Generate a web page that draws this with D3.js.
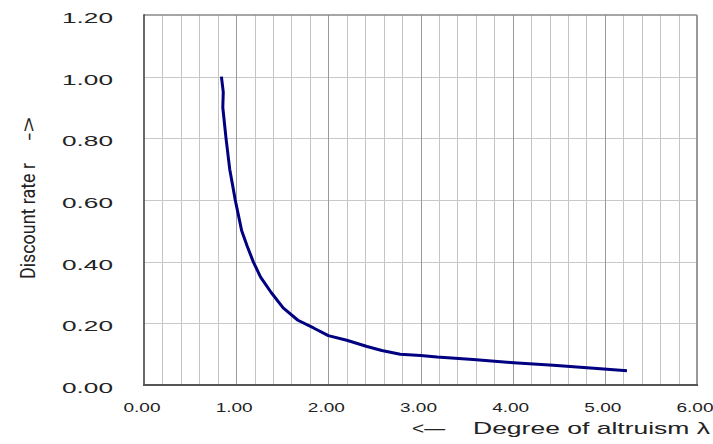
<!DOCTYPE html>
<html><head><meta charset="utf-8">
<script src="https://cdn.jsdelivr.net/npm/d3@7/dist/d3.min.js"></script>
<style>html,body{margin:0;padding:0;background:#fff;}svg{display:block;}</style>
</head><body>
<svg id="c" width="713" height="444"></svg>
<script>
// Data
const lambda = [0.84,0.86,0.855,0.89,0.93,0.96,0.99,1.06,1.12,1.185,1.265,1.38,1.51,1.67,1.84,2.00,2.20,2.42,2.58,2.78,3.00,3.18,3.57,4.01,4.44,4.88,5.24];
const rate   = [1.00,0.95,0.90,0.80,0.70,0.65,0.60,0.50,0.45,0.40,0.35,0.30,0.25,0.21,0.185,0.16,0.145,0.125,0.112,0.100,0.096,0.091,0.083,0.072,0.064,0.054,0.046];
const xTicks = [0,1,2,3,4,5,6];
const yTicks = [0,0.2,0.4,0.6,0.8,1.0,1.2];
const xTitle = "Degree of altruism λ";
const xArrow = "<—";
const yTitle = "Discount rate r";
const yArrow = "->";

const svg = d3.select("#c");
const L=144, R=697, T=15, B=385;
const x = d3.scaleLinear().domain([0,6]).range([L,R]);
const y = d3.scaleLinear().domain([0,1.2]).range([B,T]);

// grid
const minor = d3.range(0,30).map(i=>i*0.2).filter(v=>Math.abs(v-Math.round(v))>1e-6);
svg.append("g").selectAll("line").data(minor).join("line")
  .attr("x1",d=>Math.round(x(d))+0.5).attr("x2",d=>Math.round(x(d))+0.5)
  .attr("y1",T).attr("y2",B).attr("stroke","#c4c4c4").attr("stroke-width",1);
svg.append("g").selectAll("line").data(yTicks.slice(1,-1)).join("line")
  .attr("x1",L).attr("x2",R)
  .attr("y1",d=>Math.round(y(d))+0.5).attr("y2",d=>Math.round(y(d))+0.5)
  .attr("stroke","#c8c8c8").attr("stroke-width",1);
svg.append("g").selectAll("line").data(xTicks.slice(1,-1)).join("line")
  .attr("x1",d=>Math.round(x(d))+0.5).attr("x2",d=>Math.round(x(d))+0.5)
  .attr("y1",T).attr("y2",B).attr("stroke","#999").attr("stroke-width",1);

// frame
svg.append("line").attr("x1",L).attr("x2",R).attr("y1",T).attr("y2",T).attr("stroke","#888").attr("stroke-width",1.5);
svg.append("line").attr("x1",R).attr("x2",R).attr("y1",T).attr("y2",B).attr("stroke","#999").attr("stroke-width",2);
svg.append("line").attr("x1",L).attr("x2",L).attr("y1",T-0.7).attr("y2",B+1).attr("stroke","#444").attr("stroke-width",1.6);
svg.append("line").attr("x1",L-0.8).attr("x2",R+1).attr("y1",B).attr("y2",B).attr("stroke","#555").attr("stroke-width",2);

// curve
const pts = lambda.map((v,i)=>[v,rate[i]]);
svg.append("path").datum(pts)
  .attr("d", d3.line().x(d=>x(d[0])).y(d=>y(d[1])))
  .attr("fill","none").attr("stroke","#000080").attr("stroke-width",3)
  .attr("stroke-linejoin","round").attr("stroke-linecap","butt");

// y axis labels
const ya = svg.append("g").attr("transform","translate(113,0)")
  .call(d3.axisLeft(y).tickValues(yTicks).tickFormat(d3.format(".2f")).tickSize(0).tickPadding(0));
ya.select(".domain").remove();
ya.selectAll("text").attr("x",0).attr("dy",null).attr("y",7.5)
  .attr("text-anchor","end").attr("fill","#222")
  .style("font-family","'Liberation Sans'").style("font-size","15px")
  .attr("textLength",51).attr("lengthAdjust","spacingAndGlyphs");

// x axis labels
const xa = svg.append("g").attr("transform","translate(-2.5,411.5)")
  .call(d3.axisBottom(x).tickValues(xTicks).tickFormat(d3.format(".2f")).tickSize(0).tickPadding(0));
xa.select(".domain").remove();
xa.selectAll("text").attr("y",0).attr("dy",null)
  .attr("text-anchor","middle").attr("fill","#222")
  .style("font-family","'Liberation Sans'").style("font-size","13.5px")
  .attr("textLength",37).attr("lengthAdjust","spacingAndGlyphs");

// x title
svg.append("text").attr("x",412).attr("y",433.5).text(xArrow)
  .attr("fill","#222").style("font-family","'Liberation Sans'").style("font-size","17px")
  .attr("textLength",33).attr("lengthAdjust","spacingAndGlyphs");
svg.append("text").attr("x",473).attr("y",433.5).text(xTitle)
  .attr("fill","#222").style("font-family","'Liberation Sans'").style("font-size","17px")
  .attr("textLength",237).attr("lengthAdjust","spacingAndGlyphs");

// y title (rotated)
svg.append("text").attr("transform","translate(35,279) rotate(-90)").text(yTitle)
  .attr("fill","#222").style("font-family","Roboto").style("font-size","20px")
  .attr("textLength",116).attr("lengthAdjust","spacingAndGlyphs");
svg.append("text").attr("transform","translate(35,141) rotate(-90)").text(yArrow)
  .attr("fill","#222").style("font-family","'Liberation Sans'").style("font-size","19px")
  .attr("textLength",24).attr("lengthAdjust","spacingAndGlyphs");
</script>
</body></html>
